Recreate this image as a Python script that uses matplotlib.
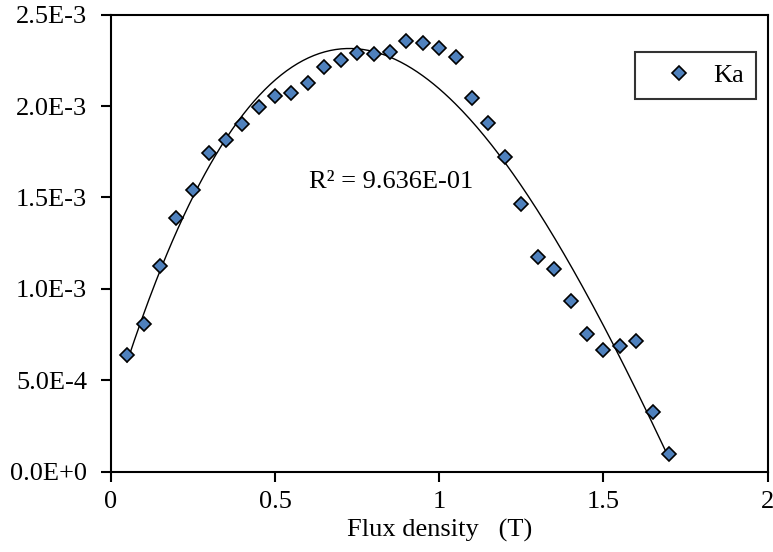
import numpy as np
import matplotlib
matplotlib.use("Agg")
import matplotlib.pyplot as plt

plt.rcParams['font.family'] = ['Liberation Serif', 'DejaVu Serif']
plt.rcParams['mathtext.fontset'] = 'stix'

# Measured Ka versus flux density
flux = [0.05, 0.10, 0.15, 0.20, 0.25, 0.30, 0.35, 0.40, 0.45, 0.50, 0.55, 0.60,
        0.65, 0.70, 0.75, 0.80, 0.85, 0.90, 0.95, 1.00, 1.05, 1.10, 1.15, 1.20,
        1.25, 1.30, 1.35, 1.40, 1.45, 1.50, 1.55, 1.60, 1.65, 1.70]
ka = [0.637e-3, 0.810e-3, 1.127e-3, 1.386e-3, 1.541e-3, 1.742e-3, 1.815e-3,
      1.902e-3, 1.995e-3, 2.055e-3, 2.073e-3, 2.128e-3, 2.214e-3, 2.254e-3,
      2.292e-3, 2.283e-3, 2.298e-3, 2.358e-3, 2.347e-3, 2.319e-3, 2.267e-3,
      2.044e-3, 1.906e-3, 1.723e-3, 1.463e-3, 1.175e-3, 1.107e-3, 0.934e-3,
      0.752e-3, 0.664e-3, 0.688e-3, 0.717e-3, 0.328e-3, 0.097e-3]
r2_label = "R² = 9.636E-01"

x_ticks = [0, 0.5, 1, 1.5, 2]
x_tick_labels = ["0", "0.5", "1", "1.5", "2"]
y_ticks = [0, 0.5e-3, 1.0e-3, 1.5e-3, 2.0e-3, 2.5e-3]
y_tick_labels = ["0.0E+0", "5.0E-4", "1.0E-3", "1.5E-3", "2.0E-3", "2.5E-3"]

x = np.array(flux)
y = np.array(ka)

# Polynomial trendline
coef = np.polyfit(x, y, 3)
xf = np.linspace(x.min(), x.max(), 300)
yf = np.polyval(coef, xf)

FS = 19

fig = plt.figure(figsize=(7.73, 5.52), dpi=100)
ax = fig.add_axes([0.1432, 0.1455, 0.85, 0.828])

ax.plot(xf, yf, color='black', lw=1.0, zorder=2)
ax.plot(x, y, linestyle='none', marker='D', ms=7.2, mfc='#4F81BD',
        mec='black', mew=1.2, label='Ka', zorder=3)

ax.set_xlim(0, 2)
ax.set_ylim(0, 2.5e-3)
ax.set_xticks(x_ticks)
ax.set_xticklabels(x_tick_labels)
ax.set_yticks(y_ticks)
ax.set_yticklabels(y_tick_labels)
ax.tick_params(direction='out', length=7, width=1.5, labelsize=FS)
ax.tick_params(axis='x', pad=7)
ax.tick_params(axis='y', pad=10)
for s in ax.spines.values():
    s.set_linewidth(1.5)

ax.set_xlabel("Flux density   (T)", fontsize=FS, labelpad=4)

ax.text(0.853, 1.585e-3, r2_label, fontsize=FS, ha='center', va='center')

leg = ax.legend(loc='upper right', bbox_to_anchor=(0.982, 0.918), fontsize=FS,
                frameon=True, fancybox=False, edgecolor='black',
                borderaxespad=0, handlelength=2.4, handletextpad=0.1,
                borderpad=0.45)
leg.get_frame().set_linewidth(1.5)

fig.savefig("out.png", dpi=100)
